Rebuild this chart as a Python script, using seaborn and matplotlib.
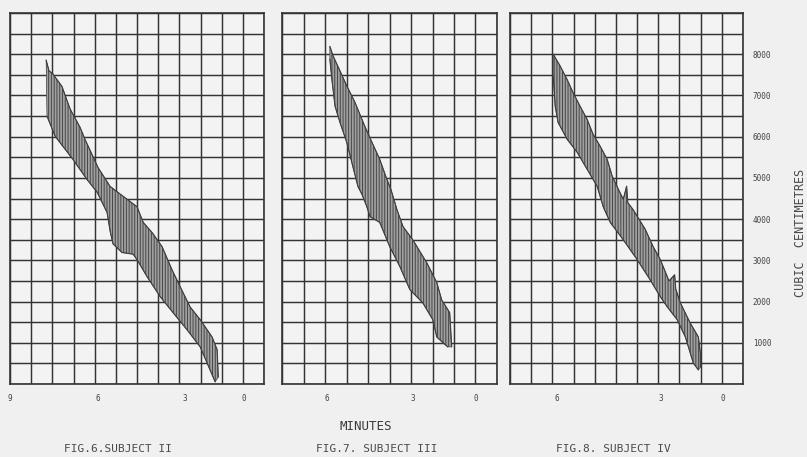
import matplotlib
matplotlib.use('Agg')
import seaborn as sns
from matplotlib import pyplot as plt
from matplotlib.ticker import MultipleLocator, FuncFormatter

# Band edges of the three spirometer traces (minutes, cubic centimetres)
fig6_upper_min = [7.72, 7.62, 7.48, 7.16, 6.87, 6.52, 6.34, 5.88, 5.45, 4.85, 4.50, 4.28, 3.96, 3.61, 3.26, 2.97, 2.62, 2.26, 1.84, 1.66, 1.62]
fig6_upper_cc = [7860, 7600, 7520, 7220, 6670, 6230, 5930, 5250, 4790, 4480, 4300, 3920, 3670, 3330, 2770, 2360, 1870, 1560, 1140, 830, 170]
fig6_lower_min = [7.69, 7.40, 6.77, 6.27, 5.91, 5.56, 5.45, 5.35, 5.03, 4.64, 4.50, 4.14, 3.68, 3.22, 2.72, 2.26, 1.91, 1.73]
fig6_lower_cc = [6500, 6010, 5450, 4960, 4650, 4160, 3700, 3400, 3190, 3150, 3020, 2600, 2120, 1730, 1310, 900, 340, 50]

fig7_upper_min = [5.83, 5.72, 5.48, 5.24, 4.96, 4.61, 4.36, 4.09, 3.84, 3.70, 3.49, 3.28, 2.94, 2.45, 2.10, 1.93, 1.65, 1.58]
fig7_upper_cc = [8190, 7960, 7600, 7230, 6840, 6250, 5860, 5450, 4960, 4720, 4230, 3820, 3500, 2940, 2460, 2040, 1730, 900]
fig7_lower_min = [5.83, 5.76, 5.65, 5.48, 5.24, 5.03, 4.85, 4.71, 4.54, 4.43, 4.09, 3.74, 3.39, 3.04, 2.59, 2.24, 2.10, 1.72]
fig7_lower_cc = [7880, 7390, 6740, 6350, 5860, 5280, 4790, 4600, 4300, 4060, 3920, 3330, 2850, 2290, 1970, 1560, 1140, 900]

fig8_upper_min = [6.72, 6.48, 6.23, 6.02, 5.77, 5.52, 5.31, 5.06, 4.81, 4.63, 4.46, 4.24, 4.12, 4.08, 3.89, 3.46, 3.18, 2.93, 2.62, 2.42, 2.38, 2.22, 1.87, 1.58, 1.51, 1.51]
fig8_upper_cc = [8000, 7720, 7390, 7070, 6740, 6420, 6060, 5770, 5450, 5040, 4790, 4480, 4800, 4400, 4230, 3750, 3330, 3020, 2500, 2650, 2300, 1970, 1480, 1140, 750, 410]
fig8_lower_min = [6.72, 6.65, 6.55, 6.23, 5.87, 5.52, 5.16, 4.95, 4.70, 4.24, 3.75, 3.29, 2.93, 2.68, 2.33, 2.04, 1.76, 1.58]
fig8_lower_cc = [7470, 6740, 6350, 5940, 5620, 5210, 4790, 4300, 3920, 3500, 3020, 2530, 2120, 1870, 1560, 1140, 510, 340]

# Minute tick labels as printed under each panel
fig6_ticks = [9, 5.9, 2.8, 0.7]
fig7_ticks = [5.93, 2.94, 0.74]
fig8_ticks = [6.58, 2.9, 0.7]
fig6_labels = ['9', '6', '3', '0']
fig7_labels = ['6', '3', '0']
fig8_labels = ['6', '3', '0']

captions = ['FIG.6.SUBJECT II', 'FIG.7. SUBJECT III', 'FIG.8. SUBJECT IV']

sns.set_theme(style='white')
plt.rcParams['font.family'] = ['DejaVu Sans Mono']
plt.rcParams['hatch.linewidth'] = 0.7

W, H = 807, 457
fig = plt.figure(figsize=(W / 100, H / 100), dpi=100, facecolor='#f0f0f0')

ink = '#333333'
panels = [
    # left px, right px, span in minutes, data, ticks
    (10, 264, 9.0, fig6_upper_min, fig6_upper_cc, fig6_lower_min, fig6_lower_cc, fig6_ticks, fig6_labels),
    (282, 497, 7.5, fig7_upper_min, fig7_upper_cc, fig7_lower_min, fig7_lower_cc, fig7_ticks, fig7_labels),
    (510, 743, 8.25, fig8_upper_min, fig8_upper_cc, fig8_lower_min, fig8_lower_cc, fig8_ticks, fig8_labels),
]
top_px, bottom_px = 13, 384

axes = []
for (l, r, span, um, uc, lm, lc, ticks, labels) in panels:
    ax = fig.add_axes([l / W, 1 - bottom_px / H, (r - l) / W, (bottom_px - top_px) / H])
    ax.set_facecolor('#f3f3f3')
    ax.set_xlim(span, 0)
    ax.set_ylim(0, 9000)
    ax.xaxis.set_major_locator(MultipleLocator(0.75))
    ax.yaxis.set_major_locator(MultipleLocator(500))
    ax.grid(True, color=ink, lw=1.05)
    ax.set_axisbelow(True)
    ax.tick_params(length=0, labelbottom=False, labelleft=False)
    for s in ax.spines.values():
        s.set_color(ink)
        s.set_linewidth(1.2)

    # the breathing band
    poly_x = um + lm[::-1]
    poly_y = uc + lc[::-1]
    ax.fill(poly_x, poly_y, facecolor='#a0a0a0', edgecolor='#474747', hatch='||||||', lw=0.5, zorder=3)
    sns.lineplot(x=um, y=uc, sort=False, estimator=None, color='#3f3f3f', lw=0.8, ax=ax, zorder=4)
    sns.lineplot(x=lm, y=lc, sort=False, estimator=None, color='#3f3f3f', lw=0.8, ax=ax, zorder=4)
    ax.set_xlabel('')
    ax.set_ylabel('')

    sec = ax.secondary_xaxis('bottom')
    sec.set_xticks(ticks, labels)
    sec.tick_params(length=0, pad=7, labelsize=5.5, labelcolor='#444444')
    sec.spines['bottom'].set_visible(False)
    axes.append(ax)

# cubic centimetre scale on the right of the last panel
ax3 = axes[2]
ax3.yaxis.tick_right()
ax3.yaxis.set_major_formatter(FuncFormatter(lambda v, p: f'{int(v)}' if v % 1000 == 0 and 0 < v < 9000 else ''))
ax3.tick_params(axis='y', labelright=True, pad=7, labelsize=5.5, labelcolor='#444444')

fig.text(801 / W, 1 - 233 / H, 'CUBIC  CENTIMETRES', rotation=90, ha='center', va='center', fontsize=8.5, color='#4a4a4a')
fig.text(366 / W, 1 - 427 / H, 'MINUTES', ha='center', va='center', fontsize=9, color='#3a3a3a')
for cx, txt in zip([118, 377, 613], captions):
    fig.text(cx / W, 1 - 449 / H, txt, ha='center', va='center', fontsize=8, color='#4a4a4a')

fig.savefig('out.png', dpi=100, facecolor=fig.get_facecolor())
